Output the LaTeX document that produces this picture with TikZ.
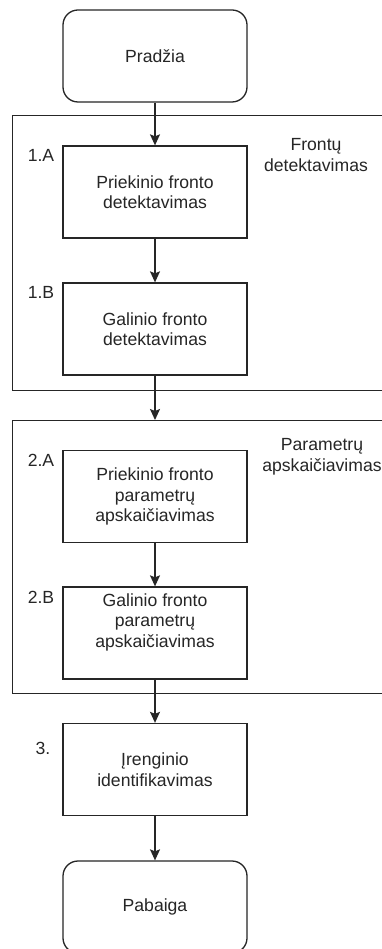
\documentclass[tikz,border=0pt]{standalone}
\usepackage{fontspec}
\setmainfont{Liberation Sans}
\usetikzlibrary{arrows.meta}
\begin{document}
\begin{tikzpicture}[x=1pt,y=-1pt,
  every node/.style={font=\fontsize{17.6}{20.5}\selectfont, text=black!85},
  box/.style={draw=black!85, line width=1.3pt, minimum width=184pt, minimum height=92pt, inner sep=0pt, align=center},
  term/.style={box, rounded corners=15pt},
  group/.style={draw=black!85, line width=1.3pt, anchor=north west, inner sep=0pt},
  tag/.style={inner sep=0pt},
  arr/.style={draw=black!85, line width=1.3pt, -{Stealth[length=11pt,width=10pt,inset=2pt]}}
]
\useasboundingbox (0,0) rectangle (381,949);
\fill[white] (0,0) rectangle (381,949);

\node[group, minimum width=390pt, minimum height=275pt] (c1) at (12,115) {};
\node[group, minimum width=390pt, minimum height=273pt] (c2) at (12,420) {};

\node[term] (start) at (155,56) {Pradžia};
\node[box] (b1a) at (155,192) {Priekinio fronto\\detektavimas};
\node[box] (b1b) at (155,329) {Galinio fronto\\detektavimas};
\node[box] (b2a) at (155,496.5) {Priekinio fronto\\parametrų\\apskaičiavimas};
\node[box] (b2b) at (155,633) {};
\node[align=center] (b2bt) at (155,622) {Galinio fronto\\parametrų\\apskaičiavimas};
\node[box] (b3) at (155,769.5) {Įrenginio\\identifikavimas};
\node[term] (end) at (155,907) {Pabaiga};

\node[tag] (l1a) at (41,155) {1.A};
\node[tag] (l1b) at (41,292) {1.B};
\node[tag] (l2a) at (41,460) {2.A};
\node[tag] (l2b) at (41,597) {2.B};
\node[tag] (l3) at (43,748) {3.};

\node[align=center] (g1) at (316,155) {Frontų\\detektavimas};
\node[align=center] (g2) at (322,457) {Parametrų\\apskaičiavimas};

\draw[arr] (start) -- (b1a);
\draw[arr] (b1a) -- (b1b);
\draw[arr] (b1b.south) -- (b1b.south |- c2.north);
\draw[arr] (b2a) -- (b2b);
\draw[arr] (b2b) -- (b3);
\draw[arr] (b3) -- (end);
\end{tikzpicture}
\end{document}
